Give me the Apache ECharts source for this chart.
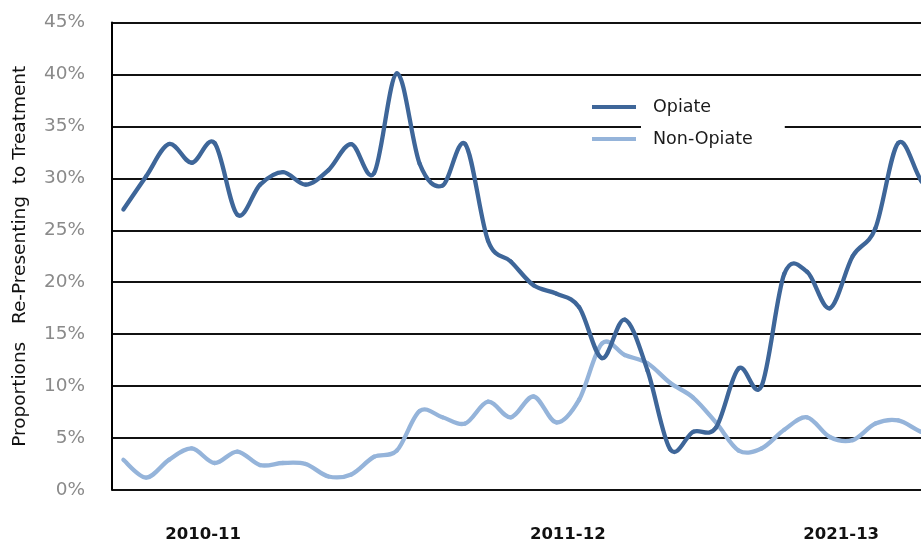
<!DOCTYPE html>
<html>
<head>
<meta charset="utf-8">
<script src="https://cdn.jsdelivr.net/npm/echarts@6/dist/echarts.min.js"></script>
<style>
  html, body { margin: 0; padding: 0; background: #fff; }
  #chart { width: 921px; height: 545px; }
</style>
</head>
<body>
<div id="chart"></div>
<script>
// Proportion of clients re-presenting to treatment, by period (percent)
const opiate = [
  27.0, 30.2, 33.3, 31.5, 33.4, 26.5, 29.4, 30.6, 29.4, 30.8,
  33.3, 30.5, 40.1, 31.4, 29.3, 33.3, 24.0, 22.0, 19.7, 18.9,
  17.6, 12.7, 16.4, 11.5, 3.9, 5.6, 6.0, 11.7, 10.0, 20.8,
  21.0, 17.5, 22.5, 25.2, 33.4, 29.8, 27.0
];
const nonOpiate = [
  2.9, 1.2, 2.9, 4.0, 2.6, 3.7, 2.4, 2.6, 2.5, 1.3,
  1.5, 3.2, 3.8, 7.6, 7.0, 6.4, 8.5, 7.0, 9.0, 6.5,
  8.7, 14.1, 13.0, 12.2, 10.3, 8.9, 6.5, 3.8, 4.0, 5.8,
  7.0, 5.1, 4.8, 6.4, 6.7, 5.6, 5.0
];
const seriesNames = ['Opiate', 'Non-Opiate'];

// Period group labels and the period positions they are centred on
const tickLabels = ['2010-11', '2011-12', '2021-13'];
const tickAt = [3.5, 19.5, 31.5];

const yTicks = { min: 0, max: 45, step: 5 };
const lastShown = 35;

const colors = { opiate: '#3e6699', nonOpiate: '#95b4da' };

const toPairs = arr => arr.map((v, i) => [i, v]);

// Smoothed line drawn segment by segment as cubic Béziers
// (Catmull-Rom style control points), positioned through the axes.
function smoothSegments(values, color) {
  return function (params, api) {
    const i = params.dataIndex;
    if (i >= values.length - 1) return null;
    const pt = j => {
      const k = Math.max(0, Math.min(values.length - 1, j));
      return api.coord([k, values[k]]);
    };
    const p0 = pt(i - 1), p1 = pt(i), p2 = pt(i + 1), p3 = pt(i + 2);
    const t = 1 / 6;
    return {
      type: 'bezierCurve',
      shape: {
        x1: p1[0], y1: p1[1],
        x2: p2[0], y2: p2[1],
        cpx1: p1[0] + (p2[0] - p0[0]) * t,
        cpy1: p1[1] + (p2[1] - p0[1]) * t,
        cpx2: p2[0] - (p3[0] - p1[0]) * t,
        cpy2: p2[1] - (p3[1] - p1[1]) * t
      },
      style: { stroke: color, fill: null, lineWidth: 4.3, lineCap: 'round' }
    };
  };
}

const chart = echarts.init(document.getElementById('chart'), null, { renderer: 'canvas' });

chart.setOption({
  animation: false,
  backgroundColor: '#fff',
  grid: { left: 112, right: 0, top: 22.5, bottom: 55, containLabel: false },
  legend: {
    orient: 'vertical',
    left: 587,
    top: 88,
    itemWidth: 44,
    itemHeight: 4,
    itemGap: 4,
    icon: 'rect',
    data: seriesNames,
    textStyle: {
      fontFamily: 'DejaVu Sans',
      fontSize: 17.5,
      color: '#1a1a1a',
      backgroundColor: '#fff',
      padding: [5, 32, 5, 12]
    }
  },
  xAxis: {
    type: 'value',
    min: -0.5,
    max: lastShown,
    axisLine: { show: false },
    axisTick: { show: false },
    splitLine: { show: false },
    axisLabel: {
      customValues: tickAt,
      formatter: v => {
        const k = tickAt.indexOf(v);
        return k >= 0 ? tickLabels[k] : '';
      },
      margin: 36,
      fontFamily: 'DejaVu Sans',
      fontWeight: 'bold',
      fontSize: 16.5,
      color: '#111'
    }
  },
  yAxis: {
    type: 'value',
    min: yTicks.min,
    max: yTicks.max,
    interval: yTicks.step,
    name: 'Proportions   Re-Presenting  to Treatment',
    nameLocation: 'middle',
    nameGap: 82,
    nameTextStyle: { fontFamily: 'DejaVu Sans', fontSize: 18.5, color: '#111' },
    axisLine: { show: true, onZero: false, lineStyle: { color: '#000', width: 2 } },
    axisTick: { show: false },
    axisLabel: {
      formatter: '{value}%',
      margin: 27,
      fontFamily: 'DejaVu Sans',
      fontSize: 18.5,
      color: '#8a8a8a'
    },
    splitLine: { show: true, lineStyle: { color: '#111', width: 2 } }
  },
  series: [
    {
      name: seriesNames[0],
      type: 'custom',
      data: toPairs(opiate),
      encode: { x: 0, y: 1 },
      renderItem: smoothSegments(opiate, colors.opiate),
      clip: true,
      z: 3,
      itemStyle: { color: colors.opiate }
    },
    {
      name: seriesNames[1],
      type: 'custom',
      data: toPairs(nonOpiate),
      encode: { x: 0, y: 1 },
      renderItem: smoothSegments(nonOpiate, colors.nonOpiate),
      clip: true,
      z: 2,
      itemStyle: { color: colors.nonOpiate }
    }
  ]
});
</script>
</body>
</html>
